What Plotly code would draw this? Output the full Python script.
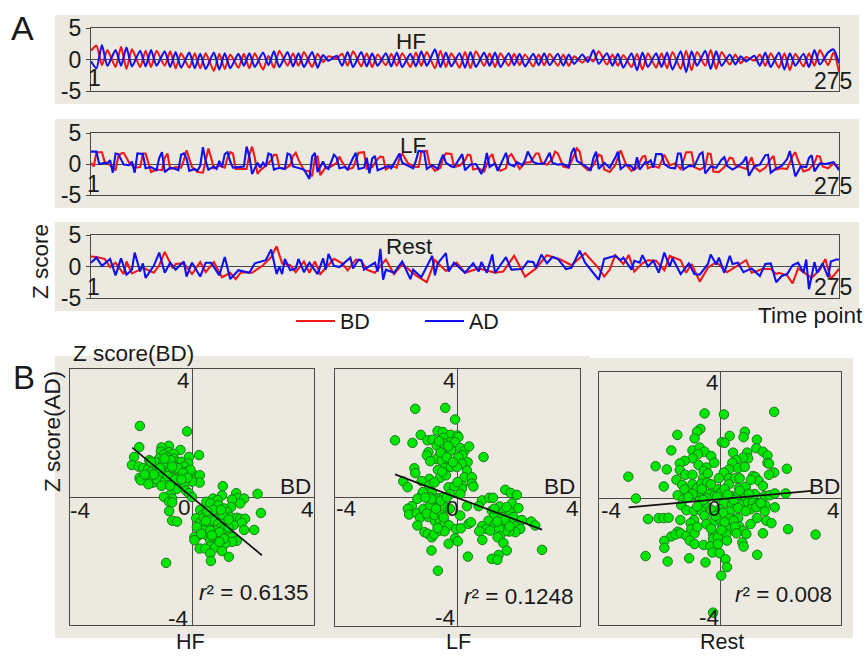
import plotly.graph_objects as go

W, H = 864, 656
FONT = "Liberation Sans, Arial, sans-serif"
TXT = "#1a1a1a"
PANEL = "#ECE9E0"
AXC = "#4a4a48"
RED = "#F01818"
BLUE = "#1010F0"

# ---------- Panel A vertices: (time index, z score) ----------
HF_IDX = [0,2,4,6,9,11,13,15,18,20, 22,24,27,29,31,33,36,38,40,42,
          45,47,49,51,54,56,58,60,63,65, 67,69,72,74,76,78,81,83,85,87,
          90,92,94,96,99,101,103,105,108,110, 112,114,117,119,121,123,126,128,130,132,
          135,137,139,141,144,146,148,150,153,155, 157,159,162,164,166,168,171,173,175,177,
          180,182,184,186,189,191,193,195,198,200, 202,204,207,209,211,213,216,218,220,222,
          225,227,229,231,234,236,238,240,243,245, 247,249,252,254,256,258,261,263,265,267,
          270,272,274]
HF_BD = [1.4,2.2,-0.9,1.5,-1.2,2.0,-1.5,1.6,-1.2,1.4,
         -1.2,1.4,-1.0,1.3,-1.4,1.0,-1.3,1.0,-1.4,1.0,
         -1.8,0.9,-1.5,0.8,-1.3,0.9,-1.4,1.0,-1.6,0.6,
         -1.3,1.4,-1.0,1.0,-1.0,1.2,-1.2,0.9,-0.4,0.5,
         0.2,0.9,-1.0,1.3,-1.1,1.0,-1.2,0.8,-0.9,0.9,
         -1.0,1.0,-1.2,1.1,-1.0,1.2,-1.4,1.4,-1.2,1.0,
         -1.3,1.2,-1.4,1.3,-1.0,1.0,-1.2,1.0,-1.0,0.9,
         -0.9,0.8,-1.1,0.8,-0.9,0.9,-1.0,0.8,-1.0,0.5,
         -0.5,0.4,-0.3,1.3,-0.8,0.8,-1.0,0.7,-1.2,0.9,
         -1.6,1.0,-1.3,1.0,-1.4,1.2,-1.5,1.4,-1.7,1.2,
         -1.0,1.5,-1.5,1.2,-0.8,0.8,-0.6,0.4,-0.2,0.8,
         -1.0,1.0,-1.3,1.0,-1.7,0.9,-1.1,1.0,-1.0,1.5,
         -0.9,1.1,-2.0]
HF_AD = [-0.3,-1.4,2.3,-1.0,1.5,-1.0,1.9,-1.1,1.4,-1.1,
         1.5,-1.0,1.3,-1.2,1.2,-1.3,1.1,-1.4,0.9,-1.5,
         1.1,-1.6,1.0,-1.4,0.9,-1.0,1.0,-1.2,1.1,-0.9,
         1.3,-1.2,1.2,-1.1,1.0,-1.2,1.2,-1.3,0.7,-0.2,
         0.6,-1.0,1.2,-1.2,1.2,-1.1,1.0,-1.0,1.0,-1.1,
         1.1,-1.2,0.9,-1.1,1.3,-1.0,1.6,-1.2,1.1,-1.1,
         1.0,-1.3,1.2,-1.2,1.1,-1.0,1.1,-1.2,1.0,-0.9,
         0.9,-1.1,0.9,-0.9,1.0,-0.9,0.9,-1.0,0.8,-0.7,
         0.8,-0.4,1.5,-0.7,1.0,-1.0,0.9,-1.3,1.0,-1.7,
         1.1,-1.2,1.0,-1.2,1.1,-1.6,1.3,-2.0,1.3,-1.0,
         1.4,-1.5,1.3,-1.0,0.8,-0.8,0.5,-0.3,0.6,-1.0,
         1.1,-1.2,1.1,-1.6,1.0,-1.0,0.9,-1.2,1.5,-0.8,
         1.1,1.6,-0.6]

LF_AD_V = [(0,2.0),(2,2.0),(3,0.0),(5,0.2),(6,0.1),(7,0.6),(8,-1.4),(9,1.7),(10,1.6),(12,-0.1),(14,-0.2),(15,0.4),(16,-1.4),(17,1.7),(19,1.6),(20,-0.7),(22,-0.5),(24,-1.0),
 (25,1.0),(26,1.9),(27,-1.3),(29,-0.6),(31,-0.8),(32,-1.0),(33,1.5),(34,1.7),(35,0.9),(36,-1.1),(38,-0.8),(39,-1.1),(40,-0.3),(41,2.7),(42,0.5),(43,-0.9),(45,-0.4),(46,-0.8),(47,0.5),(48,-0.5),
 (49,1.6),(50,1.9),(51,0.4),(52,-0.6),(54,-0.5),(56,-0.4),(57,2.8),(58,1.2),(59,-1.6),(61,0.2),(62,-0.6),(63,0.2),(64,-0.4),(65,1.7),(66,1.5),(67,-0.9),(69,-0.6),(71,-0.8),
 (72,1.7),(73,1.5),(74,-0.4),(76,-0.6),(78,-0.9),(80,-2.4),(81,1.2),(82,1.8),(83,-1.3),(85,0.4),(86,-0.6),(87,-0.8),(88,0.3),(89,1.5),(90,1.0),(91,-0.7),(93,-0.5),(94,-0.9),(96,1.0),
 (97,1.8),(98,-0.8),(100,-0.6),(101,1.0),(102,-1.5),(103,0.9),(104,1.3),(105,-1.0),(107,-0.7),(109,-0.3),(110,-0.7),(112,0.8),(113,1.7),(114,0.2),(116,-0.2),(118,-0.7),(119,0.5),(120,2.1),(122,2.0),(123,-0.8),
 (125,-0.2),(127,-0.8),(128,0.5),(129,1.5),(130,0.2),(132,-0.4),(133,-0.5),(135,1.0),(136,1.6),(137,-1.0),(139,-0.1),(141,0.0),(143,-1.6),(144,-0.5),(145,1.8),(146,-0.5),(148,0.1),(149,-1.1),(150,-0.2),(152,1.8),(153,0.0),
 (155,-0.4),(156,0.3),(158,-0.2),(159,0.6),(160,2.0),(162,0.3),(164,0.0),(166,0.1),(167,1.0),(168,1.8),(169,0.2),(171,-0.1),(173,0.0),(175,-0.5),(176,1.8),(177,2.6),(178,0.5),(180,-0.1),(182,-0.6),(183,-1.1),(184,0.9),(185,2.0),
 (186,-0.8),(188,0.2),(190,-0.6),(192,1.0),(193,2.0),(194,-0.8),(196,-0.1),(197,-0.3),(198,-0.4),(199,-1.0),(200,1.1),(201,-0.9),(203,0.3),(204,0.2),(205,0.6),(206,-0.6),(207,1.6),(209,1.6),(210,0.0),(212,-0.6),(214,-0.7),
 (215,1.7),(216,1.7),(217,-0.9),(219,-0.3),(221,-0.4),(223,1.6),(224,1.9),(225,-1.5),(227,-0.4),(229,-0.6),(231,0.7),(232,1.1),(233,-0.3),(235,-0.9),(237,-0.4),(239,0.4),(240,1.2),(241,-1.9),(243,-0.4),(245,-0.1),
 (247,1.4),(248,1.5),(249,-1.4),(251,-0.7),(253,-0.3),(255,0.8),(256,2.1),(257,0.1),(258,-2.0),(260,-0.4),(262,-0.5),(263,1.0),(264,1.4),(265,-1.2),(267,0.1),(269,0.0),(271,0.2),(272,0.3),(274,-1.0)]

LF_BD_V = [(0,0.2),(1,-0.4),(2,1.9),(4,1.9),(5,0.4),(7,-0.2),(9,-1.0),(10,1.2),(11,1.7),(12,1.8),(14,0.2),(16,-0.6),(18,-0.5),(19,1.7),(20,1.7),(21,0.0),(22,-1.3),(24,-0.9),(26,-1.0),(27,1.0),(28,1.7),(29,-0.8),(31,-0.5),(33,-0.6),
 (34,0.6),(35,2.2),(37,-0.5),(39,-1.3),(41,-1.4),(42,0.5),(43,2.5),(44,1.0),(45,-0.7),(47,-0.3),(49,-0.6),(50,1.0),(51,1.9),(52,1.7),(53,-0.8),(55,-0.8),(57,-0.8),(58,1.5),(59,2.8),(60,1.0),(61,-1.6),(62,-1.0),(64,-0.3),(66,0.6),(67,1.5),(68,1.5),(69,-0.6),(71,-0.8),(73,-0.2),(74,1.3),(75,1.8),(76,0.7),(78,-1.0),(80,-1.2),(81,-2.0),(82,0.9),(83,1.3),(84,-1.8),
 (86,-0.5),(88,-0.4),(90,0.2),(91,1.2),(92,0.3),(94,-0.9),(96,-0.6),(98,1.8),(100,1.9),(101,-0.8),(103,-0.5),(105,0.8),(106,1.2),(107,1.1),(108,-0.9),(110,-0.3),(112,-0.6),(113,0.9),(114,1.7),(116,0.2),(118,-0.4),(120,-0.5),(121,2.0),(123,2.1),(124,0.0),(126,-1.1),(128,-0.6),(129,1.0),(130,1.7),(132,1.6),(133,-0.5),(135,-0.3),(137,0.6),(138,1.5),(139,1.4),(140,-0.9),(142,-0.7),(144,-1.2),(146,1.1),(147,1.6),(148,-0.1),(150,-1.1),(152,-0.7),(153,1.2),(154,1.6),(155,0.8),(157,-0.8),(159,0.2),(161,0.3),(163,1.7),(164,1.7),(165,0.3),(167,-0.1),(169,0.8),(170,2.0),(171,1.7),(173,-0.4),(175,-0.6),(177,1.5),(178,2.5),(179,2.0),(180,-0.2),(182,-1.0),(184,-0.2),(186,1.5),(187,1.3),(188,-0.9),(190,-1.3),(192,-0.2),(194,2.2),(196,-0.1),(198,-1.1),(200,-0.6),(202,1.2),(203,1.3),(204,-0.7),(206,-0.3),(208,-0.6),(210,1.5),(212,-0.2),(214,0.1),(216,-0.8),(218,1.9),(220,1.9),(221,-0.5),(223,-0.9),(225,-0.4),(226,1.7),(227,1.6),(228,-1.2),(230,-1.3),(232,-0.5),(234,1.0),(235,0.9),(236,-0.2),(238,-0.5),(240,-0.8),(242,1.1),(243,-0.5),(245,-1.2),(247,-0.6),(249,0.8),(250,1.3),(251,-0.9),(253,-0.7),(255,-0.8),(257,1.3),(258,1.9),(259,0.6),(261,-1.2),(263,-0.9),(265,0.2),(266,1.3),(267,1.2),(268,-0.4),(270,-0.7),(272,0.1),(274,-0.6)]

REST_AD_V = [(0,0.6),(2,1.4),(4,0.1),(6,0.8),(7,1.2),(9,-1.4),(11,1.3),(13,-1.3),(15,-0.5),(16,2.2),(18,-0.8),(19,0.5),(20,-1.8),(23,0.1),(25,2.2),(27,-1.0),(29,0.6),(31,-0.5),(34,0.8),(35,-1.6),(37,0.6),(40,-1.6),(42,0.6),(44,0.6),(47,-1.4),(49,1.5),(51,-2.0),(54,-0.6),(58,-1.0),(60,0.5),(64,1.0),(66,2.7),(68,-1.2),(69,0.0),(70,-1.2),(71,1.2),(73,-0.6),(75,-0.3),(76,1.2),(78,-0.9),(80,0.6),(83,-1.2),(85,1.3),(86,-0.5),(87,2.0),(89,0.1),(91,-0.1),
 (95,1.4),(96,-0.3),(98,1.1),(99,1.0),(100,-0.5),(104,0.6),(105,-0.8),(106,2.8),(107,-2.1),(108,-0.5),(111,-1.0),(114,0.8),(117,-2.0),(118,-0.5),(121,-1.7),(125,1.7),(126,-1.4),(127,0.5),(130,2.1),(131,-0.8),(133,0.6),(137,-1.0),(140,0.5),(142,-0.8),(143,0.7),(145,-1.0),(147,1.9),(148,-1.0),(152,1.5),(154,-0.5),(158,-0.4),(160,0.8),(162,0.7),(163,-0.2),(165,1.9),(167,0.5),(169,1.5),(171,1.2),(174,-0.4),(176,-0.2),(179,2.5),(181,0.6),(186,-2.1),
 (188,1.2),(192,1.7),(194,1.0),(195,1.4),(198,-0.5),(199,0.9),(201,0.6),(202,1.8),(204,0.0),(206,0.9),(208,-1.0),(210,2.2),(212,0.0),(213,1.3),(216,-1.2),(219,0.5),(221,-1.2),(223,-1.3),(226,0.4),(227,1.9),(229,0.3),(230,1.4),(232,-1.0),(234,1.7),(235,0.4),(237,0.6),(239,-0.9),(242,-0.3),(245,-1.5),(247,0.4),(249,0.5),(251,-2.5),(253,-1.5),(255,-1.2),(257,0.2),(259,0.6),(261,-1.0),(262,1.1),(263,-3.6),(265,0.7),(266,-1.0),(268,0.5),(270,-1.7),(271,0.8),(273,1.1),(274,1.1)]

REST_BD_V = [(0,1.6),(2,1.5),(5,1.2),(7,-0.1),(9,0.6),(12,-1.2),(13,0.8),(15,-1.1),(18,-0.5),(19,-0.2),(23,-1.0),(25,0.2),(27,2.3),(30,-0.3),(31,0.4),(34,0.5),(37,-1.2),(40,0.7),(42,-0.9),(45,0.7),(48,-1.7),(51,-1.0),(53,-2.0),(55,-0.9),(59,-1.0),(63,0.2),(66,1.5),(68,3.2),(70,0.5),(73,0.2),(75,-0.9),(78,0.8),(80,-1.0),(82,0.8),(84,-1.2),(87,0.3),(89,1.2),(92,0.5),
 (94,-0.6),(97,1.1),(99,0.9),(101,-0.5),(104,-1.0),(108,1.1),(111,-1.2),(114,0.4),(119,-1.4),(123,-2.5),(126,1.0),(130,-0.7),(134,0.6),(137,-1.0),(142,-0.3),(148,-1.0),(151,-0.8),(155,1.7),(159,-1.6),(163,-0.3),(167,1.8),(172,1.1),(176,0.2),(181,2.1),(186,-0.3),
 (188,-1.6),(190,-0.5),(192,1.8),(195,0.4),(197,1.8),(199,-0.8),(202,0.5),(204,1.0),(207,0.9),(210,-0.6),(212,1.7),(216,1.0),(218,-1.0),(220,0.4),(223,-2.4),(226,-0.2),(229,0.7),(233,-0.9),(240,1.0),(242,-1.0),(246,-0.4),(249,-0.4),(251,-1.2),(252,-1.0),(255,-1.4),(257,-2.7),(259,-0.3),(262,-1.2),(264,-1.8),(267,-0.5),(269,1.2),(271,-2.0),(274,-0.4)]

# ---------- Panel B points: (BD, AD) ----------
HF_PTS = [(-1.71,2.22),(-0.16,2.05),(-1.73,1.56),(0.23,1.31),(-0.38,1.47),(-0.76,1.6),(-1.0,1.55),(-0.75,1.4),(-1.02,1.42),(-0.92,1.33),(-0.6,1.35),(-0.82,1.25),(-1.08,1.2),(-0.6,1.2),(-0.85,1.1),(-1.1,1.05),(-0.75,1.03),(-0.52,1.1),(-0.35,1.1),(-0.1,1.25),(-0.12,1.05),(-0.25,0.95),(-0.55,0.95),(-0.85,0.93),(-1.4,1.15),(-1.3,1.0),(-1.18,1.08),(-1.9,1.25),(-1.97,1.0),(-1.75,0.95),(-1.6,0.9),(-1.45,0.85),(-1.3,0.8),(-1.15,0.85),(-0.95,0.75),(-0.72,0.78),(-0.5,0.8),(-0.38,0.72),(-0.15,0.8),(0.05,0.7),(-0.05,0.85),(0.1,0.55),(0.26,0.68),(0.25,0.45),(0.0,0.48),(-0.25,0.55),(-0.5,0.65),(-0.62,0.6),(-0.78,0.5),(-1.0,0.6),(-1.1,0.7),(-1.2,0.5),(-1.28,0.45),(-1.42,0.6),(-1.72,0.6),(-1.68,0.52),(-1.43,0.4),(-1.15,0.55),(-0.9,0.48),(-0.58,0.42),(-0.4,0.32),(-0.25,0.42),(-0.5,0.25),(-0.2,0.2),(-0.7,0.08),(-0.92,0.0),(-0.65,-0.05),(-0.1,0.12),(0.0,0.0),(-0.75,-0.15),(-0.65,-0.17),(-0.75,-0.44),(-0.65,-0.74),(-0.49,-0.77),(-0.85,-2.06),
 (-0.95,1.05),(-0.7,1.15),(-0.45,0.9),(-1.25,0.7),(-1.05,0.9),(-0.8,0.65),(-0.3,0.75),(-0.55,0.55),(-0.9,1.2),(-0.65,0.95),(-1.35,1.1),(-1.55,0.7),(-0.15,0.6),(-0.35,0.55),(-1.0,0.35),(-0.72,0.35),
 (1.01,0.34),(0.98,0.05),(1.45,0.12),(1.5,-0.03),(1.71,-0.05),(1.58,-0.2),(1.31,-0.08),(1.28,-0.31),(0.69,-0.05),(0.84,-0.1),(0.47,-0.15),(0.6,-0.2),(0.87,-0.26),(1.06,-0.36),(1.15,-0.47),(0.27,-0.4),(0.35,-0.57),(0.14,-0.66),(0.25,-0.81),(0.38,-0.64),(0.6,-0.62),(0.87,-0.47),(0.93,-0.62),(1.25,-0.62),(1.47,-0.65),(1.58,-0.68),(1.74,-0.68),(1.63,-0.81),(1.71,-1.03),(1.36,-0.88),(1.14,-0.83),(0.98,-0.78),(0.71,-0.88),(0.54,-0.94),(0.38,-1.04),(0.16,-0.94),(0.22,-1.2),(0.08,-1.25),(0.08,-1.35),(0.49,-1.2),(0.6,-1.35),(0.82,-1.25),(0.98,-1.2),(1.14,-1.09),(1.31,-1.25),(1.47,-1.37),(1.31,-1.4),(1.09,-1.46),(0.82,-1.48),(0.6,-1.54),(0.25,-1.61),(0.44,-1.61),(0.76,-1.58),(0.98,-1.69),(0.6,-1.77),(0.62,-2.0),(1.21,-1.87),(2.15,0.1),(2.26,-0.5),(2.04,-1.03),
 (0.7,-0.75),(0.85,-0.85),(0.95,-0.95),(1.05,-1.0),(0.75,-1.05),(0.6,-1.05),(0.9,-1.1),(1.2,-0.95),(1.0,-0.55),(0.7,-0.4),(0.5,-0.45),(0.95,-0.4),(1.2,-0.7),(0.65,-1.2),(1.05,-1.3),(0.9,-1.4),(0.45,-0.75),(0.3,-1.15)]

LF_PTS = [(-1.38,2.76),(-0.4,2.79),(-0.08,2.43),(-2.04,1.78),(-1.47,1.7),(-1.2,1.95),(0.85,1.26),(-0.65,2.07),(-0.48,2.04),(-0.22,1.95),(0,1.93),(0.03,1.88),(-0.98,1.78),(-0.82,1.8),(-0.68,1.62),(-0.46,1.86),(-0.26,1.72),(-0.08,1.72),(-0.42,1.54),(-0.21,1.46),(0.09,1.54),(0.23,1.46),(0.38,1.59),(-0.95,1.41),(-1.0,1.31),(-0.57,1.33),(-0.68,1.2),(-0.89,1.13),(0.16,1.31),(0.03,1.26),(0.33,1.1),(0.14,1.05),(-0.27,1.13),(-0.51,1.15),(-0.42,0.92),(-0.22,0.95),(-0.02,0.95),(-0.64,0.86),(0.31,0.84),(-1.41,0.91),(-1.38,0.76),(-0.57,0.61),(-0.38,0.69),(0.23,0.63),(0.47,0.63),(-0.92,0.58),(-1.77,0.5),(-1.63,0.32),(-1.17,0.51),(0.47,0.43),(0.52,0.34),(0.14,0.37),(-0.93,0.37),(-0.29,0.32),(1.56,0.24),(1.74,0.14),(1.94,0.08),(0.14,0.27),(0.09,0.11),
 (-1.17,0.06),(-0.84,0.17),(-1.13,0.17),(-1.31,-0.04),(-0.89,0.01),(-0.62,-0.02),(-0.46,0.01),(-0.24,0.11),(-1.49,-0.27),(-1.62,-0.35),(-1.58,-0.53),(-1.33,-0.49),(-1.22,-0.63),(-1.11,-0.35),(-0.89,-0.43),(-0.73,-0.18),(-0.57,-0.2),(-0.95,-0.61),(-0.62,-0.46),(-0.42,-0.3),(-0.73,-0.74),(-0.57,-0.72),(-0.42,-0.77),(-0.27,-0.87),(-1.31,-0.87),(-1.08,-1.08),(-0.97,-1.13),(-0.84,-1.24),(-0.76,-1.15),(-0.57,-1.03),(-0.42,-1.05),(-0.05,-0.98),(0.11,-0.96),(0.36,-0.82),(0.44,-0.77),(0.31,-0.27),(0.09,-0.56),(-0.29,-1.44),(-0.08,-1.27),(0.01,-1.36),(-0.85,-1.65),(-0.64,-2.28),(0.34,-1.84),
 (0.8,-0.09),(1.04,-0.01),(1.16,-0.01),(0.69,-0.27),(1.12,-0.41),(1.38,-0.28),(1.78,-0.18),(1.99,-0.33),(1.5,-0.46),(1.72,-0.46),(1.2,-0.56),(1.01,-0.72),(1.45,-0.61),(1.83,-0.61),(2.1,-0.7),(2.41,-0.75),(2.54,-0.87),(1.72,-0.79),(1.23,-0.82),(0.8,-0.89),(0.94,-0.98),(0.71,-1.05),(1.07,-1.03),(1.45,-0.89),(1.89,-0.9),(2.05,-0.98),(1.89,-1.08),(1.69,-1.06),(1.56,-1.05),(1.36,-0.98),(1.38,-1.2),(1.31,-1.24),(0.81,-1.32),(1.5,-1.42),(1.61,-1.65),(2.76,-1.63),(1.34,-1.79),(1.12,-1.91),(1.3,-1.94),
 (-0.75,-0.05),(-0.55,-0.1),(-0.35,0.0),(-0.25,-0.35),(-0.9,-0.25),(-1.0,-0.5),(-0.75,-0.55),(-0.5,-0.55),(-0.7,-0.35),(-0.85,-0.05),(-0.45,-0.62),(-0.65,-0.95),(1.55,-0.7),(1.3,-0.75),(1.6,-0.3),(1.2,-0.35),(1.7,-0.9),(-0.55,1.4),(-0.45,1.68),(-0.35,1.25),(-0.15,1.1),(-0.6,1.75),(-0.3,1.6),(-0.5,0.8),(-0.75,0.47),(-0.1,0.35),(0.0,0.48),(-1.05,0.0)]

REST_PTS = [(-0.51,2.69),(0.13,2.66),(1.79,2.74),(-0.65,2.2),(-0.76,2.11),(-1.41,2.01),(-0.84,1.9),(0.82,2.11),(0.78,1.94),(0.32,1.98),(0.06,1.78),(0.15,1.76),(1.22,1.86),(1.2,1.59),(-1.61,1.52),(-0.91,1.52),(-0.67,1.61),(-0.51,1.48),(-0.73,1.4),(-0.91,1.27),(-0.29,1.34),(0.43,1.45),(0.9,1.45),(1.42,1.48),(1.57,1.36),(0.93,1.27),(0.76,1.29),(0.54,1.21),(0.41,1.13),(1.57,1.13),(1.62,1.1),(-1.17,1.19),(-1.33,1.11),(-0.19,1.13),(-2.13,1.02),(-1.76,0.92),(-1.33,0.9),(-0.71,1.06),(-0.45,0.98),(-0.54,0.87),(0.3,0.92),(0.6,0.96),(0.82,1.0),(2.21,0.94),(1.79,0.82),(1.62,0.75),(0.13,0.82),(-1.15,0.75),(-0.91,0.75),(-0.56,0.64),(-0.4,0.79),(-0.04,0.64),(0.3,0.64),(0.51,0.64),(0.65,0.64),(1.09,0.71),(1.17,0.68),(1.28,0.56),(-3.03,0.69),(-1.86,0.38),(-1.44,0.59),(-1.25,0.43),(-1.17,0.29),(-0.91,0.45),(-0.76,0.33),(-0.62,0.47),(-0.43,0.5),(-0.23,0.29),(-0.07,0.29),(0.04,0.19),(0.29,0.45),(0.62,0.33),(0.85,0.37),(1.02,0.59),(1.42,0.4),(-1.4,0.1),(-1,0.08),(-0.84,0.1),(-0.62,0.14),(-0.4,0.14),(-0.18,0.08),(0.37,0.08),(0.6,0.1),(0.82,0.08),(1.15,0.14),(1.48,0.08),(1.64,0.1),(1.81,0.16),(2.17,0.16),(-2.78,0),(-1.2,-0.02),(-0.45,0.01),(-0.67,-0.07),(0.13,-0.15),(0.4,-0.21),(0.73,-0.2),(0.93,-0.13),(1.09,-0.13),(1.26,-0.18),(1.5,-0.22),(1.81,-0.28),(-1.28,-0.21),(-1.11,-0.37),(-0.86,-0.39),(-0.47,-0.25),(-0.62,-0.39),(-0.51,-0.55),(-0.01,-0.34),(0.34,-0.41),(1.01,-0.34),(1.2,-0.28),(1.48,-0.41),(1.22,-0.62),(1.53,-0.7),(1.7,-0.78),(2.25,-0.97),(3.16,-1.14),(-2.38,-0.65),(-2.03,-0.62),(-1.86,-0.62),(-1.7,-0.61),(-1.31,-0.68),(-0.86,-0.68),(-0.97,-0.78),(-0.21,-0.73),(-0.01,-0.65),(0.32,-0.63),(0.6,-0.62),(1.01,-0.81),(-0.45,-0.81),(0.08,-0.89),(0.3,-0.97),(0.63,-0.88),(0.76,-1.02),(0.87,-1.12),(1.42,-1.1),(-1.39,-1.05),(-1.61,-1.2),(-1.47,-1.14),(-1.3,-1.1),(-1.11,-1.18),(-0.95,-0.97),(-0.84,-1.1),(-0.23,-1.12),(-0.23,-1.28),(-0.07,-1.23),(0.21,-1.12),(0.23,-1.33),(0.74,-1.39),(0.78,-1.52),(-1.84,-1.34),(-1.84,-1.56),(-1,-1.33),(-0.84,-1.44),(-0.54,-1.47),(-0.32,-1.51),(-0.07,-1.44),(-0.25,-1.71),(-0.01,-1.73),(1.23,-1.78),(-2.46,-1.82),(-1.73,-1.99),(-1.02,-1.89),(-0.48,-2.02),(0.18,-1.92),(0.23,-2.17),(0.04,-2.44),(-0.23,-3.61),
 (-0.3,0.45),(-0.1,0.05),(0.15,0.3),(0.45,-0.05),(-0.55,-0.05),(-0.3,-0.35),(0.1,-0.45),(0.6,-0.3),(0.85,-0.4),(-0.75,-0.25),(0.25,0.12),(0.65,0.25),(-0.9,0.15),(-0.15,-0.55),(0.45,-0.7),(0.15,-0.75),(-0.75,-0.9),(0.5,-0.9),(-0.6,0.3),(0.05,-1.0),(0.95,0.15),(1.35,-0.15),(-1.05,0.05),(-0.3,-0.95),(0.55,-1.1)]

HF_FIT = [(-1.96,1.54),(2.29,-1.82)]
LF_FIT = [(-2.04,0.72),(2.76,-1.0)]
REST_FIT = [(-3.02,-0.28),(3.02,0.24)]
R2_LABELS = ["0.6135", "0.1248", "0.008"]

fig = go.Figure()

def px(x): return x / W
def py(y): return 1 - y / H

def unz(v):
    return [a + 1 for a, _ in v], [b for _, b in v]

def note(text, x, y, size=22.5, **kw):
    fig.add_annotation(text=text, x=px(x), y=py(y), xref="paper", yref="paper", showarrow=False,
                       xanchor=kw.pop("xanchor", "center"), yanchor="middle",
                       font=dict(family=FONT, size=size, color=TXT), **kw)

def rect(x0, y0, x1, y1):
    fig.add_shape(type="rect", xref="paper", yref="paper", x0=px(x0), x1=px(x1), y0=py(y0), y1=py(y1),
                  fillcolor=PANEL, line_width=0, layer="below")

layout_axes = {}
rows = [
    (28, 91, [a + 1 for a in HF_IDX], HF_BD, [a + 1 for a in HF_IDX], HF_AD, "spline"),
    (133, 195, *unz(LF_BD_V), *unz(LF_AD_V), "linear"),
    (235, 298, *unz(REST_BD_V), *unz(REST_AD_V), "linear"),
]
for i, (top, bot, xr, yr, xb, yb, shp) in enumerate(rows):
    n = i + 1
    sx = "" if n == 1 else str(n)
    layout_axes["xaxis" + sx] = dict(domain=[px(91), px(839)], range=[1, 275], anchor="y" + sx,
        showgrid=False, zeroline=False, showticklabels=False, ticks="", showline=True, mirror=True,
        linecolor=AXC, linewidth=1.3)
    layout_axes["yaxis" + sx] = dict(domain=[py(bot), py(top)], range=[-5, 5], anchor="x" + sx,
        showgrid=False, zeroline=True, zerolinecolor=AXC, zerolinewidth=1.3, tickvals=[-5, 0, 5],
        ticktext=["-5", "0", "5"], ticks="outside", ticklen=4, tickcolor=AXC, showline=True, mirror=True,
        linecolor=AXC, linewidth=1.3, tickfont=dict(family=FONT, size=23, color=TXT))
    fig.add_trace(go.Scatter(x=xr, y=yr, mode="lines", name="BD", legendgroup="BD", showlegend=(i == 0),
                             line=dict(color=RED, width=2.1, shape=shp, smoothing=0.6), xaxis="x" + sx, yaxis="y" + sx))
    fig.add_trace(go.Scatter(x=xb, y=yb, mode="lines", name="AD", legendgroup="AD", showlegend=(i == 0),
                             line=dict(color=BLUE, width=2.1, shape=shp, smoothing=0.6), xaxis="x" + sx, yaxis="y" + sx))

boxes = [
    (70, 314, 369, 625, HF_PTS, HF_FIT),
    (335, 580, 369, 626, LF_PTS, LF_FIT),
    (599, 841, 372, 625, REST_PTS, REST_FIT),
]
for j, (x0, x1, y0, y1, pts, fit) in enumerate(boxes):
    n = j + 4
    layout_axes[f"xaxis{n}"] = dict(domain=[px(x0), px(x1)], range=[-4, 4], anchor=f"y{n}", showgrid=False,
        zeroline=True, zerolinecolor=AXC, zerolinewidth=1.3, showticklabels=False, ticks="", showline=True,
        mirror=True, linecolor=AXC, linewidth=1.3)
    layout_axes[f"yaxis{n}"] = dict(domain=[py(y1), py(y0)], range=[-4, 4], anchor=f"x{n}", showgrid=False,
        zeroline=True, zerolinecolor=AXC, zerolinewidth=1.3, showticklabels=False, ticks="", showline=True,
        mirror=True, linecolor=AXC, linewidth=1.3)
    fig.add_trace(go.Scatter(x=[p[0] for p in pts], y=[p[1] for p in pts], mode="markers", showlegend=False,
                             marker=dict(size=9.5, color="#00E600", line=dict(color="#1E7A1E", width=1)),
                             xaxis=f"x{n}", yaxis=f"y{n}"))
    fig.add_trace(go.Scatter(x=[p[0] for p in fit], y=[p[1] for p in fit], mode="lines", showlegend=False,
                             line=dict(color="#111111", width=1.7), xaxis=f"x{n}", yaxis=f"y{n}"))

# backgrounds
rect(55, 15, 859, 104)
rect(55, 119, 859, 208)
rect(55, 222, 859, 311)
rect(55, 356, 590, 638)
rect(590, 358, 853, 638)

# panel A text
note("A", 22, 28, size=34)
note("HF", 411, 41)
note("LF", 413, 145)
note("Rest", 409, 246)
note("1", 94, 78, size=23); note("275", 833, 81, size=23)
note("1", 93, 184, size=23); note("275", 833, 186, size=23)
note("1", 93, 287, size=23); note("275", 833, 287, size=23)
note("Z score", 40, 262, textangle=-90)
note("Time point", 810, 315)

# panel B text
note("B", 24, 377, size=33)
note("Z score(BD)", 133, 353)
note("Z score(AD)", 52, 432, textangle=-90)
labels = [
    dict(t4=(183, 380), l=(80, 510), r=(307, 509), z=(184, 507), b=(178, 618), bd=(295, 486), rr=(253, 592), nm=("HF", 190, 642)),
    dict(t4=(449, 380), l=(346, 508), r=(572, 508), z=(452, 508), b=(445, 617), bd=(559, 486), rr=(518, 596), nm=("LF", 458, 642)),
    dict(t4=(712, 382), l=(611, 510), r=(833, 510), z=(714, 508), b=(709, 617), bd=(824, 486), rr=(783, 594), nm=("Rest", 722, 642)),
]
for lab, r2 in zip(labels, R2_LABELS):
    note("4", *lab["t4"]); note("-4", *lab["l"]); note("4", *lab["r"]); note("0", *lab["z"])
    note("-4", *lab["b"]); note("BD", *lab["bd"])
    note(f"<i>r</i>² = {r2}", *lab["rr"])
    note(lab["nm"][0], lab["nm"][1], lab["nm"][2], size=21.5)

fig.update_layout(
    width=W, height=H, autosize=False, margin=dict(l=0, r=0, t=0, b=0, autoexpand=False),
    paper_bgcolor="white", plot_bgcolor="rgba(0,0,0,0)",
    font=dict(family=FONT, size=22, color=TXT),
    legend=dict(orientation="h", x=px(291), y=py(321), xanchor="left", yanchor="middle",
                itemwidth=39, entrywidth=75, entrywidthmode="pixels", tracegroupgap=0,
                bgcolor="rgba(0,0,0,0)", font=dict(family=FONT, size=21.5, color=TXT)),
    **layout_axes,
)
fig.write_html("out.html", config={"displayModeBar": False},
               post_script="document.body.style.margin='0';document.body.style.overflow='hidden';")
